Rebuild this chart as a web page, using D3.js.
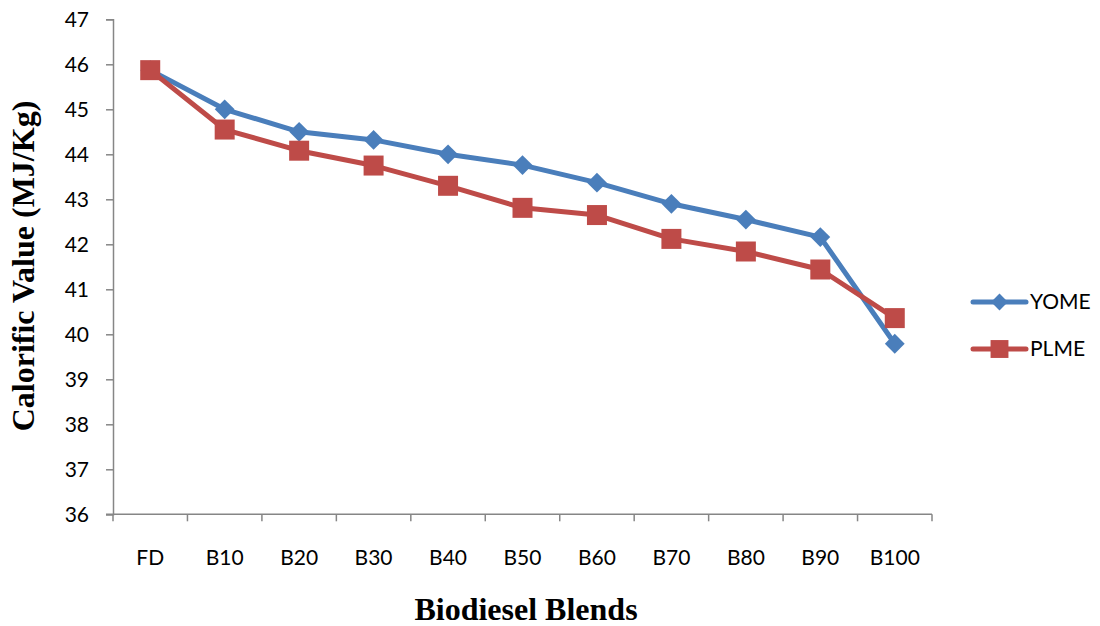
<!DOCTYPE html>
<html>
<head>
<meta charset="utf-8">
<script src="https://cdn.jsdelivr.net/npm/d3@7"></script>
<style>
  html, body { margin: 0; padding: 0; background: #fff; }
  svg { display: block; }
</style>
</head>
<body>
<svg id="chart" width="1100" height="626"></svg>
<script>
// Calorific value of biodiesel blends
const categories = ["FD", "B10", "B20", "B30", "B40", "B50", "B60", "B70", "B80", "B90", "B100"];
const yomeValues = [45.87, 45.0, 44.5, 44.32, 44.0, 43.76, 43.37, 42.9, 42.55, 42.16, 39.79];
const plmeValues = [45.87, 44.55, 44.08, 43.75, 43.3, 42.81, 42.65, 42.12, 41.84, 41.44, 40.36];
const yTicks = [36, 37, 38, 39, 40, 41, 42, 43, 44, 45, 46, 47];
const seriesNames = ["YOME", "PLME"];

const svg = d3.select("#chart");
const plotLeft = 113, plotRight = 932, plotTop = 19.3, plotBottom = 514.3;
const axisColor = "#868686";
const tickFont = "Lato, 'Open Sans', sans-serif";
const titleFont = "'Liberation Serif', 'Times New Roman', serif";

const x = d3.scaleBand().domain(categories).range([plotLeft, plotRight]);
const y = d3.scaleLinear().domain([36, 47]).range([plotBottom, plotTop]);

// Y axis
const yAxis = svg.append("g")
  .attr("transform", `translate(${plotLeft},0)`)
  .call(d3.axisLeft(y).tickValues(yTicks).tickSize(7).tickPadding(17).tickFormat(d3.format("d")));
yAxis.select(".domain").attr("stroke", axisColor).attr("stroke-width", 1.5);
yAxis.selectAll(".tick line").attr("stroke", axisColor).attr("stroke-width", 1.5);
yAxis.selectAll(".tick text")
  .attr("font-family", tickFont).attr("font-size", 21).attr("fill", "#000");

// X axis: ticks on band boundaries
const xAxisG = svg.append("g").attr("transform", `translate(0,${plotBottom})`);
xAxisG.append("line")
  .attr("x1", plotLeft - 7).attr("x2", plotRight)
  .attr("stroke", axisColor).attr("stroke-width", 1.5);
const boundaries = categories.map(c => x(c)).concat([x(categories[categories.length - 1]) + x.bandwidth()]);
xAxisG.selectAll("line.tk").data(boundaries).enter().append("line")
  .attr("class", "tk")
  .attr("x1", d => d).attr("x2", d => d)
  .attr("y1", 0).attr("y2", 7)
  .attr("stroke", axisColor).attr("stroke-width", 1.5);
xAxisG.selectAll("text").data(categories).enter().append("text")
  .attr("x", d => x(d) + x.bandwidth() / 2)
  .attr("y", 51)
  .attr("text-anchor", "middle")
  .attr("font-family", tickFont).attr("font-size", 21).attr("fill", "#000")
  .text(d => d);

// Axis titles
svg.append("text")
  .attr("x", 526).attr("y", 620)
  .attr("text-anchor", "middle")
  .attr("font-family", titleFont)
  .attr("font-weight", "bold").attr("font-size", 32)
  .text("Biodiesel Blends");
svg.append("text")
  .attr("transform", "translate(34,266) rotate(-90)")
  .attr("text-anchor", "middle")
  .attr("font-family", titleFont)
  .attr("font-weight", "bold").attr("font-size", 32)
  .text("Calorific Value (MJ/Kg)");

const cx = d => x(d) + x.bandwidth() / 2;
const line = d3.line().x(d => cx(d.cat)).y(d => y(d.v));

const yome = categories.map((c, i) => ({ cat: c, v: yomeValues[i] }));
const plme = categories.map((c, i) => ({ cat: c, v: plmeValues[i] }));

const blue = "#4A7EBB", red = "#BE4B48";
const diamond = d3.symbol().type(d3.symbolDiamond2).size(250);
const square = d3.symbol().type(d3.symbolSquare).size(400);

// YOME series
svg.append("path").datum(yome)
  .attr("d", line).attr("fill", "none")
  .attr("stroke", blue).attr("stroke-width", 5).attr("stroke-linejoin", "round");
svg.selectAll("path.yome").data(yome).enter().append("path")
  .attr("class", "yome")
  .attr("d", diamond)
  .attr("transform", d => `translate(${cx(d.cat)},${y(d.v)})`)
  .attr("fill", blue);

// PLME series
svg.append("path").datum(plme)
  .attr("d", line).attr("fill", "none")
  .attr("stroke", red).attr("stroke-width", 5).attr("stroke-linejoin", "round");
svg.selectAll("path.plme").data(plme).enter().append("path")
  .attr("class", "plme")
  .attr("d", square)
  .attr("transform", d => `translate(${cx(d.cat)},${y(d.v)})`)
  .attr("fill", red);

// Legend
const legend = svg.append("g");
const legendItems = [
  { name: seriesNames[0], color: blue, sym: d3.symbol().type(d3.symbolDiamond2).size(180), yy: 302 },
  { name: seriesNames[1], color: red, sym: d3.symbol().type(d3.symbolSquare).size(320), yy: 349 }
];
legendItems.forEach(it => {
  legend.append("line")
    .attr("x1", 973).attr("x2", 1026).attr("y1", it.yy).attr("y2", it.yy)
    .attr("stroke", it.color).attr("stroke-width", 5).attr("stroke-linecap", "round");
  legend.append("path").attr("d", it.sym)
    .attr("transform", `translate(999.5,${it.yy})`).attr("fill", it.color);
  legend.append("text")
    .attr("x", 1030).attr("y", it.yy).attr("dy", "0.35em")
    .attr("font-family", tickFont).attr("font-size", 21).attr("fill", "#000")
    .text(it.name);
});
</script>
</body>
</html>
